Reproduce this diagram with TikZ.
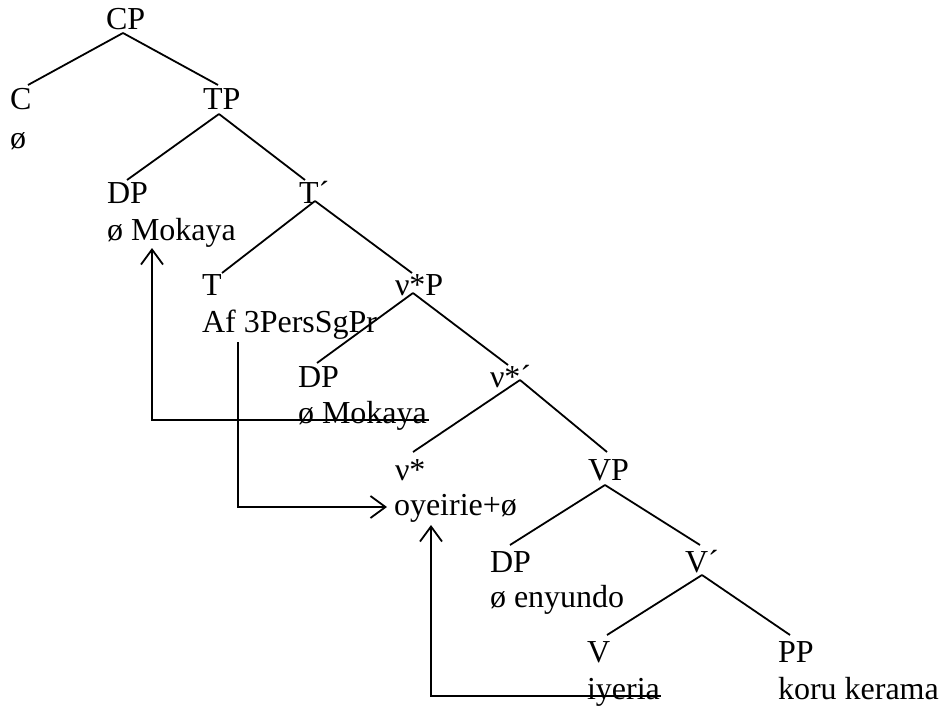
\documentclass[tikz,border=0pt]{standalone}
\usepackage{fontspec}
\setmainfont{Liberation Serif}
\usetikzlibrary{arrows.meta}
\begin{document}
\begin{tikzpicture}[x=1pt,y=-1pt,
  lbl/.style={anchor=base west, inner sep=0pt, outer sep=0pt,
              font=\fontsize{32}{36}\selectfont},
  branch/.style={line width=1.8pt},
  mv/.style={line width=1.8pt, -{Straight Barb[length=15pt,width=22pt]}}]
\useasboundingbox (0,0) rectangle (941,706);

% category labels and their lexical material
\node[lbl] (CP)   at (106,30)  {CP};
\node[lbl] (C)    at (10,110)  {C};
\node[lbl] (Cw)   at (10,148)  {ø};
\node[lbl] (TP)   at (203,110) {TP};
\node[lbl] (DPa)  at (107,203) {DP};
\node[lbl] (DPaw) at (107,240) {ø Mokaya};
\node[lbl] (Tbar) at (299,203) {T´};
\node[lbl] (T)    at (202,295) {T};
\node[lbl] (Tw)   at (202,332) {Af 3PersSgPr};
\node[lbl] (vP)   at (395,295) {ν*P};
\node[lbl] (DPb)  at (298,387) {DP};
\node[lbl] (DPbw) at (298,423) {ø Mokaya};
\node[lbl] (vbar) at (490,387) {ν*´};
\node[lbl] (v)    at (395,480) {ν*};
\node[lbl] (vw)   at (394,515) {oyeirie+ø};
\node[lbl] (VP)   at (588,480) {VP};
\node[lbl] (DPc)  at (490,572) {DP};
\node[lbl] (DPcw) at (490,607) {ø enyundo};
\node[lbl] (Vbar) at (685,572) {V´};
\node[lbl] (V)    at (587,662) {V};
\node[lbl] (Vw)   at (587,699) {iyeria};
\node[lbl] (PP)   at (778,662) {PP};
\node[lbl] (PPw)  at (778,699) {koru kerama};

% branches
\draw[branch] ([shift={(17,3)}]CP.base west)  -- ([shift={(18,-25)}]C.base west);
\draw[branch] ([shift={(17,3)}]CP.base west)  -- ([shift={(15,-25)}]TP.base west);
\draw[branch] ([shift={(16,4)}]TP.base west)  -- ([shift={(20,-23)}]DPa.base west);
\draw[branch] ([shift={(16,4)}]TP.base west)  -- ([shift={(6,-23)}]Tbar.base west);
\draw[branch] ([shift={(16,-2)}]Tbar.base west) -- ([shift={(20,-22)}]T.base west);
\draw[branch] ([shift={(16,-2)}]Tbar.base west) -- ([shift={(17,-22)}]vP.base west);
\draw[branch] ([shift={(18,-2)}]vP.base west) -- ([shift={(19,-24)}]DPb.base west);
\draw[branch] ([shift={(18,-2)}]vP.base west) -- ([shift={(18,-22)}]vbar.base west);
\draw[branch] ([shift={(30,-7)}]vbar.base west) -- ([shift={(18,-28)}]v.base west);
\draw[branch] ([shift={(30,-7)}]vbar.base west) -- ([shift={(19,-28)}]VP.base west);
\draw[branch] ([shift={(17,5)}]VP.base west)  -- ([shift={(20,-27)}]DPc.base west);
\draw[branch] ([shift={(17,5)}]VP.base west)  -- ([shift={(15,-27)}]Vbar.base west);
\draw[branch] ([shift={(17,3)}]Vbar.base west) -- ([shift={(20,-27)}]V.base west);
\draw[branch] ([shift={(17,3)}]Vbar.base west) -- ([shift={(12,-27)}]PP.base west);

% movement arrows (the struck-out copies are crossed by the arrow lines)
\draw[mv] ([shift={(2,-3)}]DPbw.base east) -| ([shift={(45,8)}]DPaw.base west);
\draw[mv] ([shift={(36,10)}]Tw.base west) |- ([shift={(-7,-8)}]vw.base west);
\draw[mv] ([shift={(1,-3)}]Vw.base east) -| ([shift={(37,10)}]vw.base west);
\end{tikzpicture}
\end{document}
